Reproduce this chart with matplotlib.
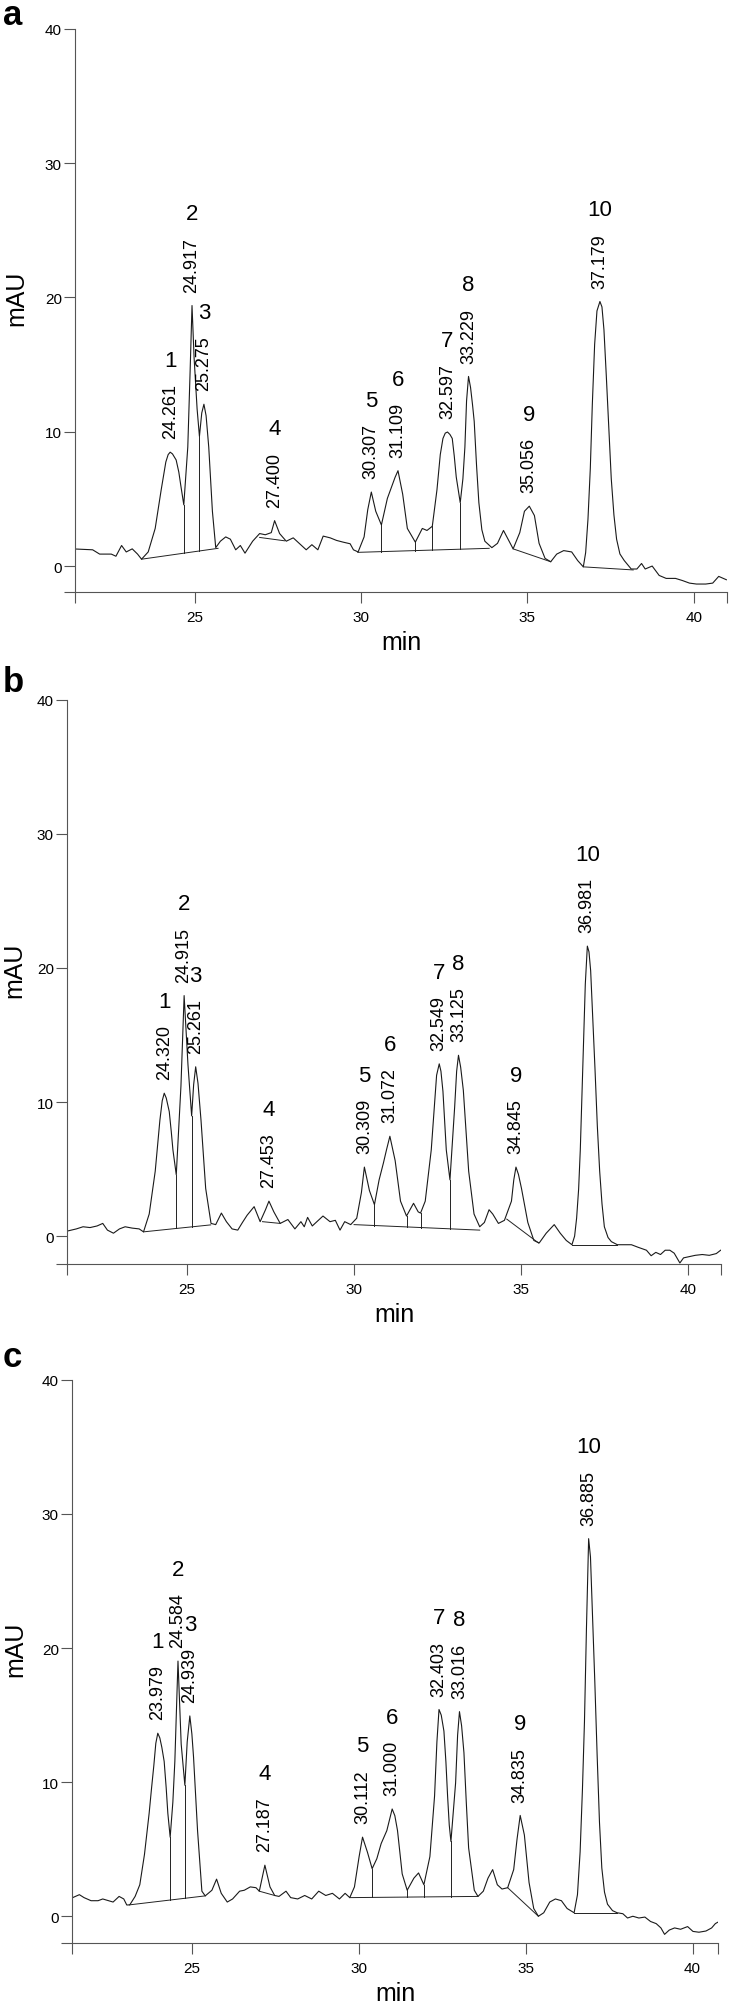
import numpy as np
import matplotlib.pyplot as plt

plt.rcParams['font.family'] = ['Liberation Sans', 'DejaVu Sans']

# ======================
# Data: (time in min, signal in mAU)
# ======================
a_trace = [
    (21.40, 1.27), (21.93, 1.21), (22.14, 0.89), (22.49, 0.89), (22.63, 0.73),
    (22.80, 1.53), (22.94, 1.05), (23.12, 1.28), (23.28, 0.89), (23.40, 0.51),
    (23.60, 1.05), (23.81, 2.80), (23.99, 5.67), (24.13, 7.75), (24.20, 8.30),
    (24.261, 8.48), (24.33, 8.35), (24.44, 7.90), (24.52, 7.00), (24.58, 6.00),
    (24.67, 4.56), (24.79, 8.86), (24.86, 14.50), (24.917, 19.40), (24.98, 15.50),
    (25.07, 11.70), (25.14, 9.66), (25.21, 11.40), (25.275, 12.05), (25.34, 11.20),
    (25.42, 8.86), (25.53, 4.08), (25.63, 1.37), (25.77, 1.85), (25.93, 2.17),
    (26.07, 2.00), (26.23, 1.21), (26.37, 1.53), (26.51, 0.96), (26.74, 1.85),
    (26.95, 2.42), (27.12, 2.33), (27.30, 2.49), (27.40, 3.38), (27.55, 2.42),
    (27.75, 1.85), (27.96, 2.10), (28.14, 1.69), (28.35, 1.21), (28.52, 1.59),
    (28.70, 1.21), (28.86, 2.23), (29.07, 2.10), (29.26, 1.91), (29.46, 1.78),
    (29.67, 1.66), (29.77, 1.21), (29.91, 1.05), (30.09, 2.17), (30.20, 4.20),
    (30.307, 5.51), (30.44, 4.08), (30.61, 3.06), (30.79, 5.04), (30.93, 5.99),
    (31.02, 6.60), (31.109, 7.10), (31.25, 5.35), (31.39, 2.80), (31.63, 1.78),
    (31.84, 2.80), (31.98, 2.65), (32.14, 2.96), (32.28, 5.67), (32.38, 8.30),
    (32.46, 9.50), (32.53, 9.90), (32.597, 9.98), (32.67, 9.80), (32.74, 9.50),
    (32.80, 8.20), (32.86, 6.63), (32.98, 4.72), (33.06, 6.50), (33.12, 8.86),
    (33.17, 12.30), (33.229, 14.12), (33.29, 13.30), (33.35, 12.00), (33.40, 10.77),
    (33.47, 7.50), (33.54, 4.72), (33.63, 2.70), (33.72, 1.85), (33.93, 1.37),
    (34.10, 1.69), (34.28, 2.65), (34.45, 1.85), (34.57, 1.28), (34.77, 2.49),
    (34.91, 4.08), (35.056, 4.46), (35.21, 3.76), (35.35, 1.69), (35.53, 0.57),
    (35.70, 0.32), (35.88, 0.89), (36.09, 1.15), (36.33, 1.05), (36.51, 0.41),
    (36.68, -0.06), (36.75, 1.00), (36.82, 3.50), (36.89, 7.27), (36.95, 12.00),
    (37.02, 16.50), (37.09, 19.00), (37.179, 19.70), (37.24, 19.30), (37.30, 17.60),
    (37.37, 14.20), (37.45, 10.00), (37.52, 6.50), (37.60, 3.80), (37.68, 2.00),
    (37.78, 0.90), (37.91, 0.41), (38.12, -0.22), (38.29, -0.22), (38.43, 0.19),
    (38.54, -0.22), (38.75, 0.00), (38.96, -0.70), (39.17, -0.92), (39.45, -0.92),
    (39.66, -1.08), (39.87, -1.27), (40.08, -1.34), (40.36, -1.34), (40.57, -1.27),
    (40.75, -0.77), (40.98, -1.02),
]
a_rt = [24.261, 24.917, 25.275, 27.400, 30.307, 31.109, 32.597, 33.229, 35.056, 37.179]
a_apex = [8.48, 19.40, 12.05, 3.38, 5.51, 7.10, 9.98, 14.12, 4.46, 19.70]
a_base = [(23.40, 0.51, 25.70, 1.32), (26.95, 2.13, 27.70, 1.88),
          (29.90, 1.02, 33.85, 1.32), (34.57, 1.28, 35.70, 0.32),
          (36.68, -0.06, 38.18, -0.29)]
a_drops = [24.67, 25.14, 30.61, 31.63, 32.14, 32.98]

b_trace = [
    (21.42, 0.38), (21.69, 0.54), (21.89, 0.70), (22.10, 0.64), (22.31, 0.76),
    (22.48, 0.95), (22.62, 0.45), (22.80, 0.22), (22.98, 0.54), (23.15, 0.70),
    (23.36, 0.60), (23.57, 0.54), (23.70, 0.32), (23.87, 1.65), (24.05, 4.84),
    (24.19, 8.65), (24.26, 10.10), (24.320, 10.66), (24.38, 10.30), (24.47, 9.29),
    (24.53, 7.80), (24.58, 6.43), (24.68, 4.58), (24.82, 11.20), (24.915, 17.94),
    (25.03, 12.79), (25.14, 8.97), (25.20, 11.30), (25.261, 12.63), (25.33, 11.40),
    (25.42, 8.65), (25.56, 3.56), (25.72, 0.95), (25.86, 0.86), (26.03, 1.72),
    (26.18, 1.08), (26.35, 0.54), (26.52, 0.45), (26.66, 1.02), (26.80, 1.56),
    (27.01, 2.20), (27.19, 1.08), (27.35, 1.97), (27.453, 2.61), (27.60, 1.81),
    (27.79, 0.95), (28.02, 1.24), (28.23, 0.54), (28.41, 1.08), (28.51, 0.70),
    (28.61, 1.40), (28.75, 0.76), (29.07, 1.50), (29.28, 1.08), (29.44, 1.18),
    (29.58, 0.45), (29.72, 1.08), (29.90, 0.86), (30.08, 1.34), (30.22, 3.25),
    (30.309, 5.15), (30.46, 3.40), (30.61, 2.35), (30.75, 4.20), (30.88, 5.47),
    (30.97, 6.43), (31.072, 7.45), (31.23, 5.63), (31.39, 2.61), (31.57, 1.50),
    (31.78, 2.45), (31.92, 1.81), (31.99, 1.72), (32.13, 2.61), (32.31, 6.43),
    (32.40, 9.50), (32.47, 12.00), (32.549, 12.85), (32.60, 12.30), (32.66, 10.80),
    (32.76, 6.43), (32.87, 4.20), (33.01, 9.61), (33.07, 12.30), (33.125, 13.49),
    (33.19, 12.60), (33.27, 10.88), (33.35, 7.80), (33.43, 4.84), (33.59, 1.65),
    (33.76, 0.70), (33.90, 1.02), (34.04, 1.97), (34.15, 1.65), (34.32, 0.95),
    (34.50, 1.18), (34.71, 2.61), (34.78, 4.20), (34.845, 5.15), (34.92, 4.60),
    (35.01, 3.56), (35.20, 1.02), (35.38, -0.32), (35.54, -0.51), (35.75, 0.22),
    (35.99, 0.86), (36.17, 0.22), (36.35, -0.32), (36.52, -0.64), (36.60, 0.00),
    (36.66, 1.34), (36.72, 3.50), (36.77, 6.43), (36.82, 10.50), (36.87, 14.38),
    (36.92, 18.80), (36.981, 21.63), (37.03, 21.20), (37.08, 19.80), (37.14, 16.50),
    (37.21, 12.47), (37.28, 8.20), (37.35, 4.84), (37.42, 2.40), (37.49, 0.70),
    (37.60, -0.10), (37.70, -0.41), (37.88, -0.64), (38.12, -0.64), (38.30, -0.64),
    (38.50, -0.83), (38.75, -1.05), (38.89, -1.46), (39.03, -1.21), (39.17, -1.37),
    (39.31, -1.05), (39.45, -1.05), (39.58, -1.27), (39.75, -2.00), (39.86, -1.62),
    (40.03, -1.53), (40.21, -1.43), (40.42, -1.37), (40.63, -1.43), (40.84, -1.30),
    (40.97, -1.05),
]
b_rt = [24.320, 24.915, 25.261, 27.453, 30.309, 31.072, 32.549, 33.125, 34.845, 36.981]
b_apex = [10.66, 17.94, 12.63, 2.61, 5.15, 7.45, 12.85, 13.49, 5.15, 21.63]
b_base = [(23.70, 0.32, 25.71, 0.84), (27.26, 1.08, 27.79, 0.95),
          (30.00, 0.86, 33.76, 0.45), (34.57, 1.27, 35.52, -0.51),
          (36.52, -0.64, 37.88, -0.64)]
b_drops = [24.68, 25.14, 30.61, 31.57, 31.99, 32.87]

c_trace = [
    (21.43, 1.39), (21.63, 1.61), (21.77, 1.39), (21.98, 1.16), (22.19, 1.16),
    (22.33, 1.29), (22.50, 1.16), (22.64, 1.06), (22.82, 1.48), (22.96, 1.29),
    (23.05, 0.84), (23.14, 0.85), (23.30, 1.48), (23.44, 2.35), (23.58, 4.61),
    (23.72, 7.68), (23.79, 9.50), (23.86, 11.23), (23.92, 12.90), (23.979, 13.65),
    (24.04, 13.30), (24.10, 12.60), (24.17, 11.55), (24.23, 9.60), (24.28, 7.68),
    (24.35, 5.90), (24.43, 8.50), (24.49, 11.55), (24.584, 19.03), (24.68, 12.84),
    (24.79, 9.77), (24.86, 13.00), (24.939, 14.94), (25.00, 13.60), (25.05, 11.87),
    (25.17, 6.39), (25.30, 1.87), (25.40, 1.52), (25.60, 1.94), (25.74, 2.77),
    (25.88, 1.71), (26.06, 1.06), (26.22, 1.29), (26.43, 1.87), (26.57, 1.94),
    (26.75, 2.19), (26.92, 2.13), (27.02, 1.87), (27.187, 3.81), (27.34, 2.19),
    (27.48, 1.55), (27.61, 1.48), (27.82, 1.87), (27.96, 1.39), (28.17, 1.29),
    (28.38, 1.55), (28.59, 1.29), (28.80, 1.87), (29.01, 1.55), (29.21, 1.71),
    (29.42, 1.29), (29.59, 1.71), (29.73, 1.39), (29.87, 2.19), (30.01, 4.45),
    (30.112, 5.90), (30.26, 4.77), (30.40, 3.55), (30.54, 4.29), (30.67, 5.42),
    (30.84, 6.39), (30.93, 7.30), (31.000, 8.00), (31.08, 7.50), (31.16, 6.39),
    (31.30, 3.16), (31.45, 1.94), (31.65, 2.84), (31.79, 3.23), (31.95, 2.35),
    (32.13, 4.45), (32.27, 8.97), (32.34, 13.00), (32.403, 15.42), (32.47, 15.00),
    (32.55, 13.81), (32.61, 11.50), (32.66, 8.97), (32.71, 6.80), (32.76, 5.58),
    (32.90, 9.94), (32.96, 13.50), (33.016, 15.26), (33.08, 14.20), (33.15, 12.19),
    (33.22, 8.50), (33.29, 5.10), (33.46, 1.94), (33.57, 1.48), (33.73, 1.87),
    (33.87, 2.84), (34.01, 3.48), (34.15, 2.35), (34.29, 2.03), (34.46, 2.13),
    (34.64, 3.48), (34.74, 5.74), (34.835, 7.52), (34.96, 6.06), (35.10, 2.52),
    (35.24, 0.58), (35.38, 0.00), (35.54, 0.26), (35.72, 1.06), (35.89, 1.29),
    (36.07, 1.16), (36.24, 0.58), (36.45, 0.26), (36.55, 1.60), (36.63, 4.80),
    (36.70, 9.50), (36.76, 14.50), (36.82, 21.50), (36.885, 28.16), (36.94, 26.80),
    (37.00, 22.50), (37.07, 17.50), (37.14, 12.00), (37.21, 7.00), (37.28, 3.60),
    (37.36, 1.80), (37.45, 0.90), (37.60, 0.42), (37.74, 0.26), (37.91, 0.19),
    (38.05, -0.13), (38.21, 0.00), (38.39, -0.13), (38.57, -0.06), (38.74, -0.39),
    (38.91, -0.55), (39.05, -0.87), (39.16, -1.35), (39.30, -1.03), (39.46, -0.87),
    (39.64, -0.97), (39.85, -0.77), (40.01, -1.13), (40.19, -1.19), (40.40, -1.10),
    (40.57, -0.87), (40.68, -0.55), (40.75, -0.45),
]
c_rt = [23.979, 24.584, 24.939, 27.187, 30.112, 31.000, 32.403, 33.016, 34.835, 36.885]
c_apex = [13.65, 19.03, 14.94, 3.81, 5.90, 8.00, 15.42, 15.26, 7.52, 28.16]
c_base = [(23.13, 0.85, 25.40, 1.52), (27.02, 1.87, 27.48, 1.55),
          (29.73, 1.39, 33.57, 1.48), (34.46, 2.13, 35.38, 0.00),
          (36.45, 0.26, 37.74, 0.26)]
c_drops = [24.35, 24.79, 30.40, 31.45, 31.95, 32.76]

peak_ids = ['1', '2', '3', '4', '5', '6', '7', '8', '9', '10']

# ======================
# Figure
# ======================
fig = plt.figure(figsize=(7.29, 20.08), dpi=100)

# letter, trace, rt, apex, baselines, drops, axes rect, xlim, ylim, letter y, mAU x
panels = [
    ('a', a_trace, a_rt, a_apex, a_base, a_drops,
     [0.1029, 0.7047, 0.8944, 0.2804], (21.40, 41.00), (-1.93, 40), 0.9876, -0.0716),
    ('b', b_trace, b_rt, b_apex, b_base, b_drops,
     [0.0919, 0.3700, 0.8971, 0.2810], (21.41, 40.98), (-2.08, 40), 0.6554, -0.0622),
    ('c', c_trace, c_rt, c_apex, c_base, c_drops,
     [0.0988, 0.0319, 0.8861, 0.2804], (21.41, 40.76), (-1.99, 40), 0.3192, -0.0692),
]

axis_grey = '#555555'

for letter, trace, rt, apex, base, drops, rect, xlim, ylim, ly, lab_x in panels:
    ax = fig.add_axes(rect)
    t = np.array([p[0] for p in trace])
    y = np.array([p[1] for p in trace])

    # trace
    ax.plot(t, y, color='#1a1a1a', lw=0.8)

    # integration baselines
    for t0, y0, t1, y1 in base:
        ax.plot([t0, t1], [y0, y1], color='#222222', lw=0.7)

    # drop lines between unresolved peaks
    for td in drops:
        for t0, y0, t1, y1 in base:
            if t0 <= td <= t1:
                yb = np.interp(td, [t0, t1], [y0, y1])
                ax.plot([td, td], [yb, np.interp(td, t, y)], color='#222222', lw=0.7)

    # peak labels
    for pid, r, h in zip(peak_ids, rt, apex):
        ax.annotate(f'{r:.3f}', xy=(r, h), xytext=(0, 10), textcoords='offset points',
                    rotation=90, ha='center', va='bottom', fontsize=13)
        ax.annotate(pid, xy=(r, h), xytext=(0, 66), textcoords='offset points',
                    ha='center', va='center', fontsize=16)

    ax.set_xlim(*xlim)
    ax.set_ylim(*ylim)
    ax.set_xticks([xlim[0], 25, 30, 35, 40, xlim[1]])
    ax.set_xticklabels(['', '25', '30', '35', '40', ''])
    ax.set_yticks([ylim[0], 0, 10, 20, 30, 40])
    ax.set_yticklabels(['', '0', '10', '20', '30', '40'])
    ax.tick_params(direction='out', length=8, width=0.8, color=axis_grey, labelsize=11)
    ax.tick_params(axis='x', pad=5)
    ax.tick_params(axis='y', pad=1.5)

    for s in ['top', 'right']:
        ax.spines[s].set_visible(False)
    for s in ['left', 'bottom']:
        ax.spines[s].set_color(axis_grey)
        ax.spines[s].set_linewidth(0.8)

    ax.set_ylabel('mAU', fontsize=18)
    ax.yaxis.set_label_coords(lab_x, 0.523)
    ax.set_xlabel('min', fontsize=18)
    ax.xaxis.set_label_coords(0.5, -0.0675)

    fig.text(0.004, ly, letter, fontsize=25, fontweight='bold', ha='left', va='baseline')

plt.savefig('out.png', dpi=100)
